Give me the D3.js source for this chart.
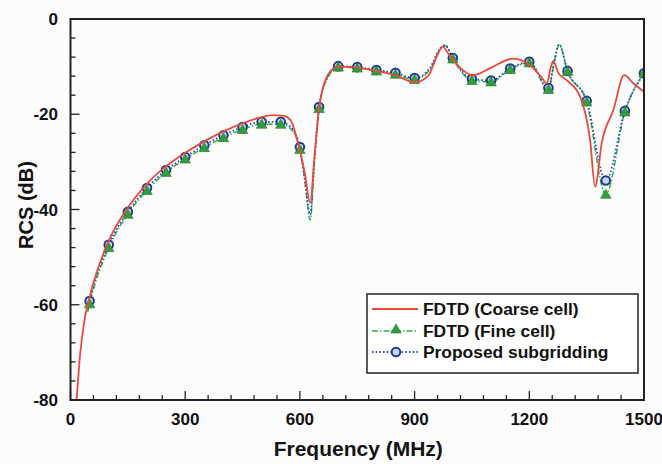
<!DOCTYPE html>
<html>
<head>
<meta charset="utf-8">
<script src="https://cdn.jsdelivr.net/npm/d3@7"></script>
<style>
  body { margin: 0; background: #fdfcfc; }
  svg { display: block; font-family: "Liberation Sans", Arial, sans-serif; font-weight: bold; }
</style>
</head>
<body>
<svg width="662" height="464"></svg>
<script>
// RCS vs frequency, three solvers

// Coarse cell FDTD (solid red)
const coarseFreq = [16, 25, 35, 50, 100, 150, 200, 250, 300, 350, 400, 450, 500, 530, 555, 575, 593, 612, 627, 638, 651, 675, 700, 750, 800, 850, 900, 935, 960, 973, 990, 1020, 1053, 1100, 1158, 1200, 1230, 1246, 1256, 1263, 1275, 1300, 1333, 1359, 1372, 1390, 1420, 1448, 1472, 1500];
const coarseRcs  = [-80, -70.5, -64, -58.4, -46.6, -39.6, -34.6, -30.9, -28.1, -25.7, -23.6, -21.9, -20.6, -20.2, -20.3, -21.2, -25.4, -32, -38.6, -29, -18.4, -11.5, -10, -10.2, -10.9, -11.8, -13.3, -12, -7.5, -5.8, -7.5, -10.3, -11.8, -10.2, -8.3, -9.6, -12, -13.5, -10.2, -8.8, -11.2, -13, -16.3, -25.4, -35.2, -25.8, -19.1, -11.8, -13.5, -15.3];

// Fine cell FDTD (green dash-dot, triangles every 50 MHz)
const fineFreq = [45, 50, 100, 150, 200, 250, 300, 350, 400, 450, 500, 550, 575, 600, 612, 627, 638, 650, 675, 700, 750, 800, 850, 900, 940, 965, 980, 1000, 1050, 1100, 1150, 1200, 1250, 1265, 1278, 1300, 1350, 1400, 1450, 1500];
const fineRcs  = [-61.5, -59.8, -48, -41, -36, -32.2, -29.4, -27, -24.9, -23.2, -22.1, -22.1, -23, -27.4, -33.5, -42.2, -30, -18.8, -12, -10.1, -10.3, -10.9, -11.6, -12.7, -10.6, -6.6, -5.6, -8.4, -12.9, -13.2, -10.6, -9.2, -14.8, -9.2, -5.4, -11, -17.4, -36.8, -19.5, -11.4];

// Proposed subgridding (blue dotted, circles every 50 MHz)
const subFreq = [45, 50, 100, 150, 200, 250, 300, 350, 400, 450, 500, 550, 575, 600, 612, 627, 638, 650, 675, 700, 750, 800, 850, 900, 940, 965, 980, 1000, 1050, 1100, 1150, 1200, 1250, 1265, 1278, 1300, 1350, 1400, 1450, 1500];
const subRcs  = [-61, -59.2, -47.4, -40.5, -35.5, -31.7, -29, -26.5, -24.4, -22.7, -21.6, -21.6, -22.6, -26.9, -33, -41, -29.5, -18.5, -11.8, -9.9, -10.1, -10.7, -11.3, -12.4, -10.3, -6.4, -5.5, -8.2, -12.6, -12.9, -10.4, -9, -14.5, -9, -5.3, -10.9, -17.2, -33.9, -19.3, -11.4];

const xTicks = [0, 300, 600, 900, 1200, 1500];
const yTicks = [0, -20, -40, -60, -80];
const legendLabels = ["FDTD (Coarse cell)", "FDTD (Fine cell)", "Proposed subgridding"];

const RED = "#e84a3c", GREEN = "#34b04a", BLUE = "#2d3fc0", NAVY = "#1d3a8f";

const svg = d3.select("svg");
const M = {left: 70.5, right: 644, top: 19, bottom: 400};

const x = d3.scaleLinear().domain([0, 1500]).range([M.left, M.right]);
const y = d3.scaleLinear().domain([-80, 0]).range([M.bottom, M.top]);

// minor ticks
const xMinor = d3.range(0, 1501, 60);
const yMinor = d3.range(-80, 1, 4);

const axes = svg.append("g").attr("stroke", "#222");
axes.selectAll(".xm").data(xMinor).enter().append("line")
    .attr("x1", d => x(d)).attr("x2", d => x(d))
    .attr("y1", M.bottom).attr("y2", d => M.bottom - (d % 300 === 0 ? 9 : 5))
    .attr("stroke-width", 1.3);
axes.selectAll(".ym").data(yMinor).enter().append("line")
    .attr("y1", d => y(d)).attr("y2", d => y(d))
    .attr("x1", M.left).attr("x2", d => M.left + (d % 20 === 0 ? 9 : 5))
    .attr("stroke-width", 1.3);

// series lines
svg.append("clipPath").attr("id", "plot")
  .append("rect").attr("x", M.left).attr("y", M.top)
  .attr("width", M.right - M.left).attr("height", M.bottom - M.top);

const line = d3.line().x(d => x(d[0])).y(d => y(d[1])).curve(d3.curveMonotoneX);
const plot = svg.append("g").attr("clip-path", "url(#plot)");

const subPts = d3.zip(subFreq, subRcs);
const finePts = d3.zip(fineFreq, fineRcs);
const coarsePts = d3.zip(coarseFreq, coarseRcs);

plot.append("path").attr("d", line(finePts))
    .attr("fill", "none").attr("stroke", GREEN).attr("stroke-width", 1.5)
    .attr("stroke-dasharray", "6,2,1.5,2");
plot.append("path").attr("d", line(subPts))
    .attr("fill", "none").attr("stroke", BLUE).attr("stroke-width", 1.8)
    .attr("stroke-dasharray", "1.5,2.2");

// markers
const tri = d3.symbol().type(d3.symbolTriangle).size(48);
plot.selectAll(".circ").data(subPts.filter(d => d[0] % 50 === 0)).enter().append("circle")
    .attr("cx", d => x(d[0])).attr("cy", d => y(d[1]))
    .attr("r", 4.3).attr("fill", "#c9d6ee").attr("stroke", NAVY).attr("stroke-width", 2);
plot.selectAll(".tri").data(finePts.filter(d => d[0] % 50 === 0)).enter().append("path")
    .attr("d", tri)
    .attr("transform", d => `translate(${x(d[0])},${y(d[1]) + 1})`)
    .attr("fill", "#2f9e3c").attr("stroke", "#237a2d").attr("stroke-width", 0.6);

plot.append("path").attr("d", line(coarsePts))
    .attr("fill", "none").attr("stroke", RED).attr("stroke-width", 1.8);

// frame
svg.append("rect").attr("x", M.left).attr("y", M.top)
    .attr("width", M.right - M.left).attr("height", M.bottom - M.top)
    .attr("fill", "none").attr("stroke", "#222").attr("stroke-width", 2);

// tick labels
svg.selectAll(".xl").data(xTicks).enter().append("text")
    .attr("x", d => x(d)).attr("y", 425)
    .attr("text-anchor", "middle").attr("font-size", 17).attr("fill", "#111")
    .text(d => d);
svg.selectAll(".yl").data(yTicks).enter().append("text")
    .attr("x", 58).attr("y", d => y(d) + 6)
    .attr("text-anchor", "end").attr("font-size", 17).attr("fill", "#111")
    .text(d => d);

// axis titles
svg.append("text").attr("x", (M.left + M.right) / 2 + 1).attr("y", 456)
    .attr("text-anchor", "middle").attr("font-size", 21).attr("fill", "#111")
    .text("Frequency (MHz)");
svg.append("text").attr("transform", "translate(33,205) rotate(-90)")
    .attr("text-anchor", "middle").attr("font-size", 20).attr("fill", "#111")
    .text("RCS (dB)");

// legend
const lg = svg.append("g");
lg.append("rect").attr("x", 367).attr("y", 294).attr("width", 271).attr("height", 79)
    .attr("fill", "#fff").attr("stroke", "#222").attr("stroke-width", 1.5);
const rowsY = [309, 331, 352];
lg.append("line").attr("x1", 372).attr("x2", 418).attr("y1", rowsY[0]).attr("y2", rowsY[0])
    .attr("stroke", RED).attr("stroke-width", 1.8);
lg.append("line").attr("x1", 372).attr("x2", 418).attr("y1", rowsY[1]).attr("y2", rowsY[1])
    .attr("stroke", GREEN).attr("stroke-width", 1.5).attr("stroke-dasharray", "6,2,1.5,2");
lg.append("path").attr("d", tri).attr("transform", `translate(396,${rowsY[1] - 1})`)
    .attr("fill", "#2f9e3c").attr("stroke", "#237a2d").attr("stroke-width", 0.6);
lg.append("line").attr("x1", 372).attr("x2", 418).attr("y1", rowsY[2]).attr("y2", rowsY[2])
    .attr("stroke", BLUE).attr("stroke-width", 1.8).attr("stroke-dasharray", "1.5,2.2");
lg.append("circle").attr("cx", 396).attr("cy", rowsY[2]).attr("r", 4.3)
    .attr("fill", "#c9d6ee").attr("stroke", NAVY).attr("stroke-width", 2);
lg.selectAll(".lt").data(legendLabels).enter().append("text")
    .attr("x", 423).attr("y", (d, i) => rowsY[i] + 6)
    .attr("font-size", 17.4).attr("fill", "#111")
    .text(d => d);
</script>
</body>
</html>
